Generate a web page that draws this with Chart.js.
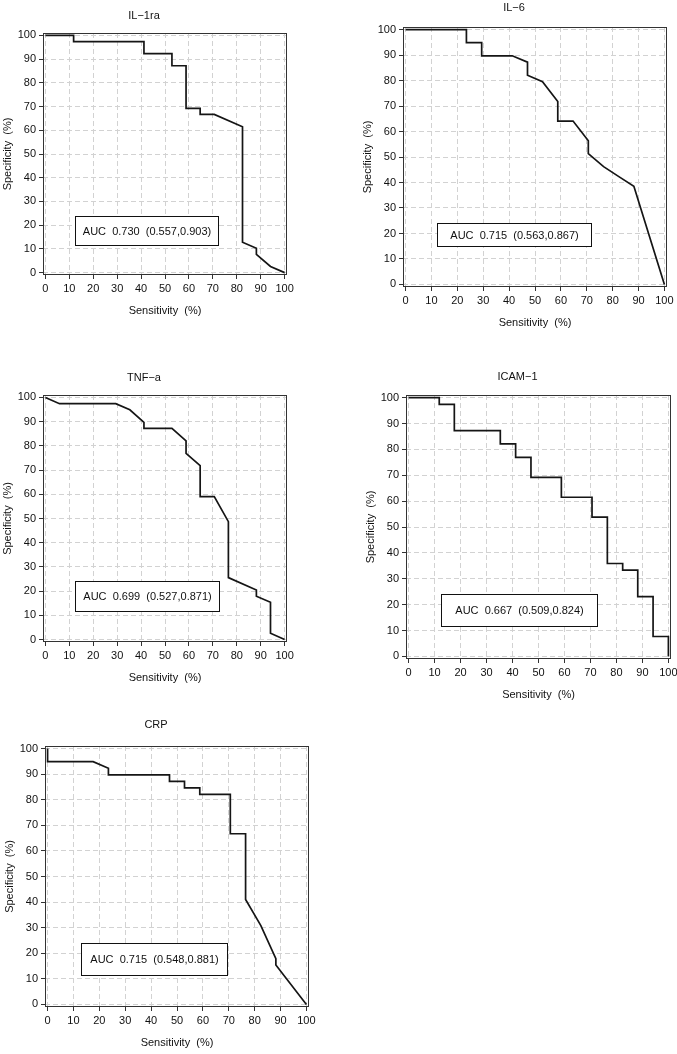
<!DOCTYPE html>
<html>
<head>
<meta charset="utf-8">
<script src="https://cdn.jsdelivr.net/npm/chart.js@4.4.1/dist/chart.umd.min.js"></script>
<style>
  body { margin: 0; background: #fff; width: 677px; height: 1054px; position: relative; overflow: hidden; }
  canvas { position: absolute; }
</style>
</head>
<body>
<script>
// tick labels shared by both axes
var axisTicks = [0, 10, 20, 30, 40, 50, 60, 70, 80, 90, 100];

var panelTitles = ["IL\u22121ra", "IL\u22126", "TNF\u2212a", "ICAM\u22121", "CRP"];
var aucLabels = [
  "AUC  0.730  (0.557,0.903)",
  "AUC  0.715  (0.563,0.867)",
  "AUC  0.699  (0.527,0.871)",
  "AUC  0.667  (0.509,0.824)",
  "AUC  0.715  (0.548,0.881)"
];

// ROC curves: sensitivity (x) / specificity (y), in %
var il1raSens = [0, 11.8, 11.8, 41.2, 41.2, 52.9, 52.9, 58.8, 58.8, 64.7, 64.7, 70.6, 82.4, 82.4, 88.2, 88.2, 94.1, 100];
var il1raSpec = [100, 100, 97.4, 97.4, 92.3, 92.3, 87.2, 87.2, 69.2, 69.2, 66.7, 66.7, 61.5, 12.8, 10.3, 7.7, 2.6, 0];

var il6Sens = [0, 23.5, 23.5, 29.4, 29.4, 41.2, 47.1, 47.1, 52.9, 58.8, 58.8, 64.7, 70.6, 70.6, 76.5, 82.4, 88.2, 100];
var il6Spec = [100, 100, 94.9, 94.9, 89.7, 89.7, 87.2, 82.1, 79.5, 71.8, 64.1, 64.1, 56.4, 51.3, 46.2, 42.3, 38.5, 0];

var tnfSens = [0, 5.9, 29.4, 35.3, 41.2, 41.2, 52.9, 58.8, 58.8, 64.7, 64.7, 70.6, 76.5, 76.5, 88.2, 88.2, 94.1, 94.1, 100];
var tnfSpec = [100, 97.4, 97.4, 94.9, 89.7, 87.2, 87.2, 82.1, 76.9, 71.8, 59.0, 59.0, 48.7, 25.6, 20.5, 17.9, 15.4, 2.6, 0];

var icamSens = [0, 11.8, 11.8, 17.6, 17.6, 35.3, 35.3, 41.2, 41.2, 47.1, 47.1, 58.8, 58.8, 70.6, 70.6, 76.5, 76.5, 82.4, 82.4, 88.2, 88.2, 94.1, 94.1, 100, 100];
var icamSpec = [100, 100, 97.4, 97.4, 87.2, 87.2, 82.1, 82.1, 76.9, 76.9, 69.2, 69.2, 61.5, 61.5, 53.8, 53.8, 35.9, 35.9, 33.3, 33.3, 23.1, 23.1, 7.7, 7.7, 0];

var crpSens = [0, 0, 17.6, 23.5, 23.5, 47.1, 47.1, 52.9, 52.9, 58.8, 58.8, 70.6, 70.6, 76.5, 76.5, 82.4, 88.2, 88.2, 100];
var crpSpec = [100, 94.9, 94.9, 92.3, 89.7, 89.7, 87.2, 87.2, 84.6, 84.6, 82.1, 82.1, 66.7, 66.7, 41.0, 30.8, 17.9, 15.4, 0];

var FONT = "'Liberation Sans', Arial, sans-serif";
var TXT = "#111";
var Y_W = 42, X_H = 43, PAD_R = 12;

// plot frame [left, top, right, bottom] in page px, header height, AUC box in data units
var layout = [
  { frame: [43, 33, 287, 275], head: 24, auc: [12.5, 24, 72, 11.7] },
  { frame: [403, 27, 667, 287], head: 26, auc: [12.3, 24, 71.8, 15.2] },
  { frame: [43, 395, 287, 642], head: 24, auc: [12.5, 24, 72.4, 11.8] },
  { frame: [406, 395, 671, 659], head: 25, auc: [12.6, 24, 72.4, 11.7] },
  { frame: [45, 746, 309, 1007], head: 28, auc: [13, 24, 69.3, 11.5] }
];
var series = [
  [il1raSens, il1raSpec],
  [il6Sens, il6Spec],
  [tnfSens, tnfSpec],
  [icamSens, icamSpec],
  [crpSens, crpSpec]
];

var framePlugin = {
  id: "frame",
  afterDatasetsDraw: function (chart, args, opts) {
    var a = chart.chartArea, ctx = chart.ctx;
    var xs = chart.scales.x, ys = chart.scales.y;
    ctx.save();
    ctx.strokeStyle = "#333";
    ctx.lineWidth = 1;
    ctx.strokeRect(Math.round(a.left) + 0.5, Math.round(a.top) + 0.5,
                   Math.round(a.right - a.left) - 1, Math.round(a.bottom - a.top) - 1);
    // AUC label box
    var b = opts.box;
    var x1 = Math.round(xs.getPixelForValue(b[0])) + 0.5, x2 = Math.round(xs.getPixelForValue(b[2])) + 0.5;
    var y1 = Math.round(ys.getPixelForValue(b[1])) + 0.5, y2 = Math.round(ys.getPixelForValue(b[3])) + 0.5;
    ctx.fillStyle = "#fff";
    ctx.fillRect(x1, y1, x2 - x1, y2 - y1);
    ctx.strokeStyle = "#111";
    ctx.strokeRect(x1, y1, x2 - x1, y2 - y1);
    ctx.fillStyle = TXT;
    ctx.font = "11px " + FONT;
    ctx.textAlign = "center";
    ctx.textBaseline = "middle";
    ctx.fillText(opts.text, (x1 + x2) / 2, (y1 + y2) / 2 + 0.5);
    ctx.restore();
  }
};

function axis(label, isX) {
  return {
    type: "linear",
    min: -1,
    max: 101,
    afterBuildTicks: function (scale) {
      scale.ticks = axisTicks.map(function (v) { return { value: v }; });
    },
    afterFit: function (scale) {
      if (isX) scale.height = X_H; else scale.width = Y_W;
    },
    grid: { color: "#d2d2d2", lineWidth: 1, tickLength: 4, tickColor: "#333", drawTicks: true },
    border: { display: false, dash: [5, 3] },
    ticks: { color: TXT, padding: 3, autoSkip: false, maxRotation: 0, font: { family: FONT, size: 11 } },
    title: { display: true, text: label, color: TXT, padding: 0, font: { family: FONT, size: 11 } }
  };
}

function makePanel(i) {
  var L = layout[i], f = L.frame;
  var w = Y_W + (f[2] - f[0]) + PAD_R;
  var h = L.head + (f[3] - f[1]) + X_H;
  var cv = document.createElement("canvas");
  cv.width = w; cv.height = h;
  cv.style.left = (f[0] - Y_W) + "px";
  cv.style.top = (f[1] - L.head) + "px";
  cv.style.width = w + "px";
  cv.style.height = h + "px";
  document.body.appendChild(cv);

  var sens = series[i][0], spec = series[i][1];
  new Chart(cv, {
    type: "scatter",
    data: {
      datasets: [{
        data: sens.map(function (x, k) { return { x: x, y: spec[k] }; }),
        showLine: true,
        borderColor: "#151515",
        borderWidth: 1.7,
        pointRadius: 0,
        fill: false,
        tension: 0
      }]
    },
    options: {
      responsive: false,
      animation: false,
      layout: { padding: { left: 0, top: 0, right: PAD_R, bottom: 0 } },
      plugins: {
        legend: { display: false },
        tooltip: { enabled: false },
        title: {
          display: true,
          text: panelTitles[i],
          color: TXT,
          font: { family: FONT, size: 11, weight: "normal", lineHeight: 1.2 },
          padding: { top: 0, bottom: L.head - 13.2 }
        },
        frame: { box: L.auc, text: aucLabels[i] }
      },
      scales: {
        x: axis("Sensitivity  (%)", true),
        y: axis("Specificity  (%)", false)
      }
    },
    plugins: [framePlugin]
  });
}

for (var i = 0; i < 5; i++) makePanel(i);
</script>
</body>
</html>
